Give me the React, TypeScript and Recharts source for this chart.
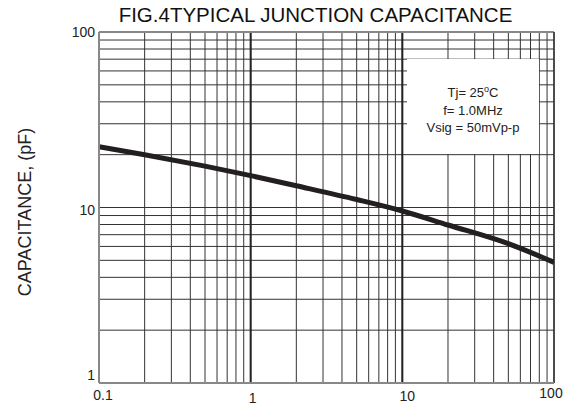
import React from "react";
import { CartesianGrid, Line, LineChart, ReferenceLine, XAxis, YAxis } from "recharts";

// bias voltage (V) and junction capacitance (pF)
const voltage = [0.1, 0.2, 0.5, 1, 2, 5, 10, 20, 50, 100];
const capacitance = [22.2, 20.0, 17.2, 15.2, 13.3, 11.1, 9.55, 7.95, 6.22, 4.87];

const xGrid = [
  0.1, 0.2, 0.3, 0.4, 0.5, 0.6, 0.7, 0.8, 0.9,
  1, 2, 3, 4, 5, 6, 7, 8, 9,
  10, 20, 30, 40, 50, 60, 70, 80, 90, 100,
];
const yGrid = [1, 2, 3, 4, 5, 6, 7, 8, 9, 10, 20, 30, 40, 50, 60, 70, 80, 90, 100];
const xLabels = ["0.1", "1", "10", "100"];
const yLabels = ["1", "10", "100"];
const decades = [1, 10];

const data = voltage.map((v, i) => ({ v, c: capacitance[i] }));

const FONT = "'Liberation Sans', Arial, sans-serif";

// label offsets copied from the scan's slightly uneven placement
const xOffsets: Record<string, [number, number]> = {
  "0.1": [4, -3],
  "1": [2, 0],
  "10": [5, -2],
  "100": [-3, -5],
};
const yOffsets: Record<string, number> = { "100": 0, "10": 2, "1": -8 };

function XTick({ x, y, payload }: any) {
  const label = String(payload.value);
  if (!xLabels.includes(label)) return null;
  const [dx, dy] = xOffsets[label];
  return (
    <text x={x + dx} y={y + 12 + dy} textAnchor="middle" fontSize={14} fill="#222" fontFamily={FONT}>
      {label}
    </text>
  );
}

function YTick({ x, y, payload }: any) {
  const label = String(payload.value);
  if (!yLabels.includes(label)) return null;
  return (
    <text x={x + 4} y={y + yOffsets[label] + 5} textAnchor="end" fontSize={14} fill="#222" fontFamily={FONT}>
      {label}
    </text>
  );
}

export default function App() {
  return (
    <div style={{ position: "absolute", left: 0, top: 0, width: 571, height: 407, background: "#fff", fontFamily: FONT }}>
      <LineChart width={571} height={407} data={data} margin={{ top: 32, right: 17, bottom: 0, left: 59 }}>
        <CartesianGrid stroke="#333" strokeWidth={1} />
        <XAxis
          dataKey="v"
          type="number"
          scale="log"
          domain={[0.1, 100]}
          ticks={xGrid}
          allowDataOverflow
          height={24}
          tickLine={false}
          axisLine={{ stroke: "#888", strokeWidth: 2 }}
          tick={<XTick />}
          interval={0}
        />
        <YAxis
          type="number"
          scale="log"
          domain={[1, 100]}
          ticks={yGrid}
          allowDataOverflow
          width={40}
          tickLine={false}
          axisLine={{ stroke: "#888", strokeWidth: 2 }}
          tick={<YTick />}
          interval={0}
        />
        {decades.map((d) => (
          <ReferenceLine key={d} x={d} stroke="#222" strokeWidth={2} />
        ))}
        <ReferenceLine y={100} stroke="#888" strokeWidth={2} />
        <ReferenceLine x={100} stroke="#333" strokeWidth={1.5} />
        <Line
          dataKey="c"
          type="monotone"
          stroke="#231f20"
          strokeWidth={5}
          dot={false}
          isAnimationActive={false}
        />
      </LineChart>
      <div
        style={{
          position: "absolute",
          left: 0,
          top: 3,
          width: 631,
          textAlign: "center",
          fontSize: 20.5,
          color: "#111",
          whiteSpace: "nowrap",
        }}
      >
        FIG.4TYPICAL JUNCTION CAPACITANCE
      </div>
      <div
        style={{
          position: "absolute",
          left: 25,
          top: 212,
          transform: "translate(-50%, -50%) rotate(-90deg)",
          fontSize: 18,
          color: "#222",
          whiteSpace: "nowrap",
        }}
      >
        CAPACITANCE, (pF)
      </div>
      <div
        style={{
          position: "absolute",
          left: 407,
          top: 59,
          width: 132,
          height: 95,
          background: "#fff",
          textAlign: "center",
          fontSize: 13,
          lineHeight: "17.5px",
          color: "#222",
          paddingTop: 22,
          boxSizing: "border-box",
        }}
      >
        <div>
          Tj= 25<sup style={{ fontSize: 9 }}>o</sup>C
        </div>
        <div>f= 1.0MHz</div>
        <div>Vsig = 50mVp-p</div>
      </div>
    </div>
  );
}
